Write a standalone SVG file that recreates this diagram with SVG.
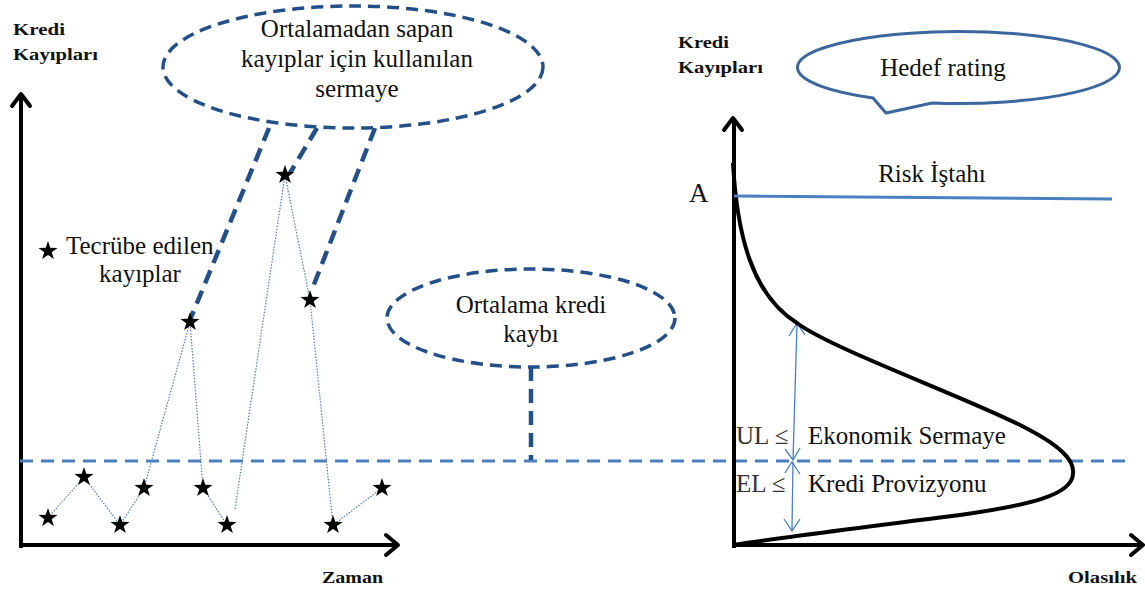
<svg xmlns="http://www.w3.org/2000/svg" width="1145" height="590" viewBox="0 0 1145 590">
  <style>
    .axis { fill: none; stroke: #000; stroke-width: 4; }
    .head { fill: none; stroke: #000; stroke-width: 4; stroke-linecap: round; stroke-linejoin: round; }
    .bubble { fill: #fff; stroke: #24508a; stroke-width: 3.5; stroke-dasharray: 12 7; }
    .pointer { fill: none; stroke: #24508a; stroke-width: 4.5; stroke-dasharray: 14 8; }
    .mean { fill: none; stroke: #4a7fc0; stroke-width: 3; stroke-dasharray: 13 8; }
    .trace { fill: none; stroke: #4a7fc0; stroke-width: 1.2; stroke-dasharray: 1.5 1.5; }
    .thin { fill: none; stroke: #4a7fc0; stroke-width: 1.3; }
  </style>
  <defs>
    <polygon id="star" points="0,-10 2.3,-3.2 9.5,-3.1 3.7,1.2 5.9,8 0,4 -5.9,8 -3.7,1.2 -9.5,-3.1 -2.3,-3.2" fill="#000"/>
  </defs>
  <rect width="1145" height="590" fill="#fff"/>

  <!-- left chart: losses over time -->
  <g id="left-axes">
    <path class="axis" d="M21,548 V95 M20,545 H396"/>
    <path class="head" d="M12,106 L21,94 L30,106"/>
    <path class="head" d="M386,535 L398,545 L386,555"/>
    <g font-family="Liberation Serif, DejaVu Serif, serif" font-size="17" font-weight="bold" fill="#111">
      <text x="13" y="35" textLength="52" lengthAdjust="spacingAndGlyphs">Kredi</text>
      <text x="13" y="60" textLength="85" lengthAdjust="spacingAndGlyphs">Kayıpları</text>
      <text x="322" y="583" textLength="61" lengthAdjust="spacingAndGlyphs">Zaman</text>
    </g>
  </g>

  <!-- average credit loss level, data trace and pointers -->
  <g id="connectors">
    <path class="mean" d="M20,461 H1128"/>
    <path class="trace" d="M48,518 L84,477 L120,525 L144,488 L190,322 L203,488 L227,525 M235,509 L285,175 L310,300 L333,525 L382,488"/>
    <path class="pointer" d="M269,128 L190,320"/>
    <path class="pointer" d="M317,128 L290,173"/>
    <path class="pointer" d="M375,128 L311,292"/>
    <path class="pointer" d="M531,367 V460"/>
    <!-- UL / EL ranges -->
    <path class="thin" d="M797,324 L793,460 M793,462 L792,530"/>
    <path class="thin" d="M789,336 L797,323 L805,335 M785,449 L793,460 L800,448 M785,473 L792,462 L800,474 M784,519 L792,531 L800,519"/>
  </g>

  <g id="stars">
    <use href="#star" x="48" y="518"/>
    <use href="#star" x="84" y="477"/>
    <use href="#star" x="120" y="525"/>
    <use href="#star" x="144" y="488"/>
    <use href="#star" x="190" y="322"/>
    <use href="#star" x="203" y="488"/>
    <use href="#star" x="227" y="525"/>
    <use href="#star" x="285" y="175"/>
    <use href="#star" x="310" y="300"/>
    <use href="#star" x="333" y="525"/>
    <use href="#star" x="382" y="488"/>
  </g>

  <g id="legend" font-family="Liberation Serif, DejaVu Serif, serif" font-size="25" fill="#111">
    <use href="#star" x="48" y="251"/>
    <text x="66" y="254">Tecrübe edilen</text>
    <text x="140" y="282" text-anchor="middle">kayıplar</text>
  </g>

  <g id="capital-bubble" font-family="Liberation Serif, DejaVu Serif, serif" font-size="25" fill="#111">
    <ellipse class="bubble" cx="353" cy="67" rx="190" ry="61"/>
    <text x="357" y="37" text-anchor="middle">Ortalamadan sapan</text>
    <text x="357" y="67" text-anchor="middle">kayıplar için kullanılan</text>
    <text x="357" y="97" text-anchor="middle">sermaye</text>
  </g>

  <g id="mean-bubble" font-family="Liberation Serif, DejaVu Serif, serif" font-size="25" fill="#111">
    <ellipse class="bubble" cx="531" cy="318" rx="144" ry="49"/>
    <text x="531" y="313" text-anchor="middle">Ortalama kredi</text>
    <text x="531" y="342" text-anchor="middle">kaybı</text>
  </g>

  <!-- right chart: loss distribution -->
  <g id="right-axes">
    <path class="axis" d="M734,548 V120 M733,545 H1141"/>
    <path class="head" d="M724,130 L733,118 L742,130"/>
    <path class="head" d="M1131,535 L1143,545 L1131,555"/>
    <g font-family="Liberation Serif, DejaVu Serif, serif" font-size="17" font-weight="bold" fill="#111">
      <text x="678" y="48" textLength="51" lengthAdjust="spacingAndGlyphs">Kredi</text>
      <text x="678" y="73" textLength="85" lengthAdjust="spacingAndGlyphs">Kayıpları</text>
      <text x="1068" y="583" textLength="69" lengthAdjust="spacingAndGlyphs">Olasılık</text>
    </g>
  </g>

  <g id="distribution">
    <path fill="none" stroke="#000" stroke-width="4" d="M733,163 C737,235 752,295 797,323 C830,348 960,395 1020,425 C1060,445 1075,460 1073,474 C1072,495 1030,505 960,515 C880,525 800,535 733,545"/>
  </g>

  <g id="risk-appetite" font-family="Liberation Serif, DejaVu Serif, serif" fill="#111">
    <path fill="none" stroke="#4a7fc0" stroke-width="3" d="M734,196 L1112,199"/>
    <text font-size="27" x="689" y="202">A</text>
    <text font-size="25" x="932" y="182" text-anchor="middle">Risk İştahı</text>
  </g>

  <g id="target-rating" font-family="Liberation Serif, DejaVu Serif, serif" font-size="25" fill="#111">
    <path fill="#fff" stroke="#3c679e" stroke-width="3" d="M873,98 A161,36 0 1 1 932,103 L886,113 Z"/>
    <text x="943" y="76" text-anchor="middle">Hedef rating</text>
  </g>

  <g id="range-labels" font-family="Liberation Serif, DejaVu Serif, serif" font-size="25" fill="#111">
    <text x="736" y="444" fill="#333">UL ≤</text>
    <text x="808" y="444">Ekonomik Sermaye</text>
    <text x="736" y="492" fill="#333">EL ≤</text>
    <text x="808" y="492">Kredi Provizyonu</text>
  </g>
</svg>
